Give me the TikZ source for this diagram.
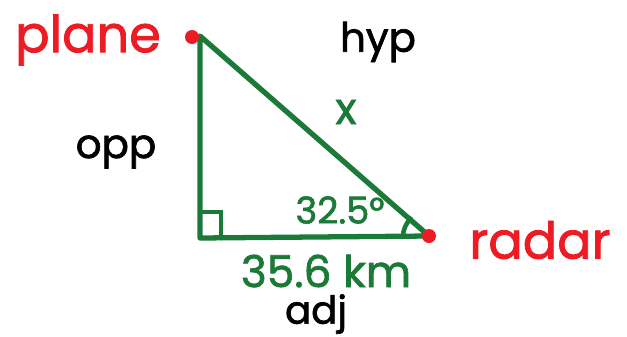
\documentclass[tikz,border=0pt]{standalone}
\usepackage{fontspec}
\setmainfont{Poppins}
\newfontfamily\penfont{Poppins}[FakeBold=1.6]
\usepackage{xcolor}
\usetikzlibrary{positioning, calc}

\definecolor{penGreen}{RGB}{27,122,55}
\definecolor{penRed}{RGB}{237,28,36}

\begin{document}
\begin{tikzpicture}[
    x=0.02cm, y=-0.02cm,
    sideline/.style={draw=penGreen, line width=3pt, line cap=round, line join=round},
    tickline/.style={draw=penGreen, line width=2.6pt, line cap=round},
    placelabel/.style={text=penRed, font=\penfont\fontsize{29}{30}\selectfont, inner sep=0pt},
    partlabel/.style={text=black, font=\penfont\fontsize{23}{24}\selectfont, inner sep=0pt},
    valuelabel/.style={text=penGreen, font=\penfont\fontsize{25}{26}\selectfont, inner sep=0pt}
]
    \useasboundingbox (0,0) rectangle (627,336);

    % corners of the triangle
    \coordinate (plane) at (200,36);
    \coordinate (corner) at (200,238);
    \coordinate (radar) at (429,236);

    \draw[sideline] (plane) -- (corner) -- (radar) -- cycle;

    % right angle box and angle arc
    \draw[tickline] ($(corner)+(2,-26)$) -- ++(19,0) -- ++(0,26);
    \draw[tickline] ($(radar)+(-26,1)$) arc[start angle=180, end angle=225, radius=26];

    \fill[penRed] ($(plane)+(-8,1)$) circle (7);
    \fill[penRed] (radar) circle (7);

    % labels
    \node[placelabel] (planeLbl) at (88,40) {plane};
    \node[placelabel] (radarLbl) at (540,240) {radar};
    \node[partlabel] (hyp) at (378,42) {hyp};
    \node[partlabel] (opp) at (116,152) {opp};
    \node[valuelabel] (hypLen) at (346,112) {x};
    \node[valuelabel] (adjLen) at (326,271) {35.6 km};
    \node[partlabel, font=\penfont\fontsize{22}{23}\selectfont] (adj) at (316,314) {adj};
    \node[valuelabel, font=\penfont\fontsize{21}{22}\selectfont] (angle) at (340,210) {32.5°};
\end{tikzpicture}
\end{document}
